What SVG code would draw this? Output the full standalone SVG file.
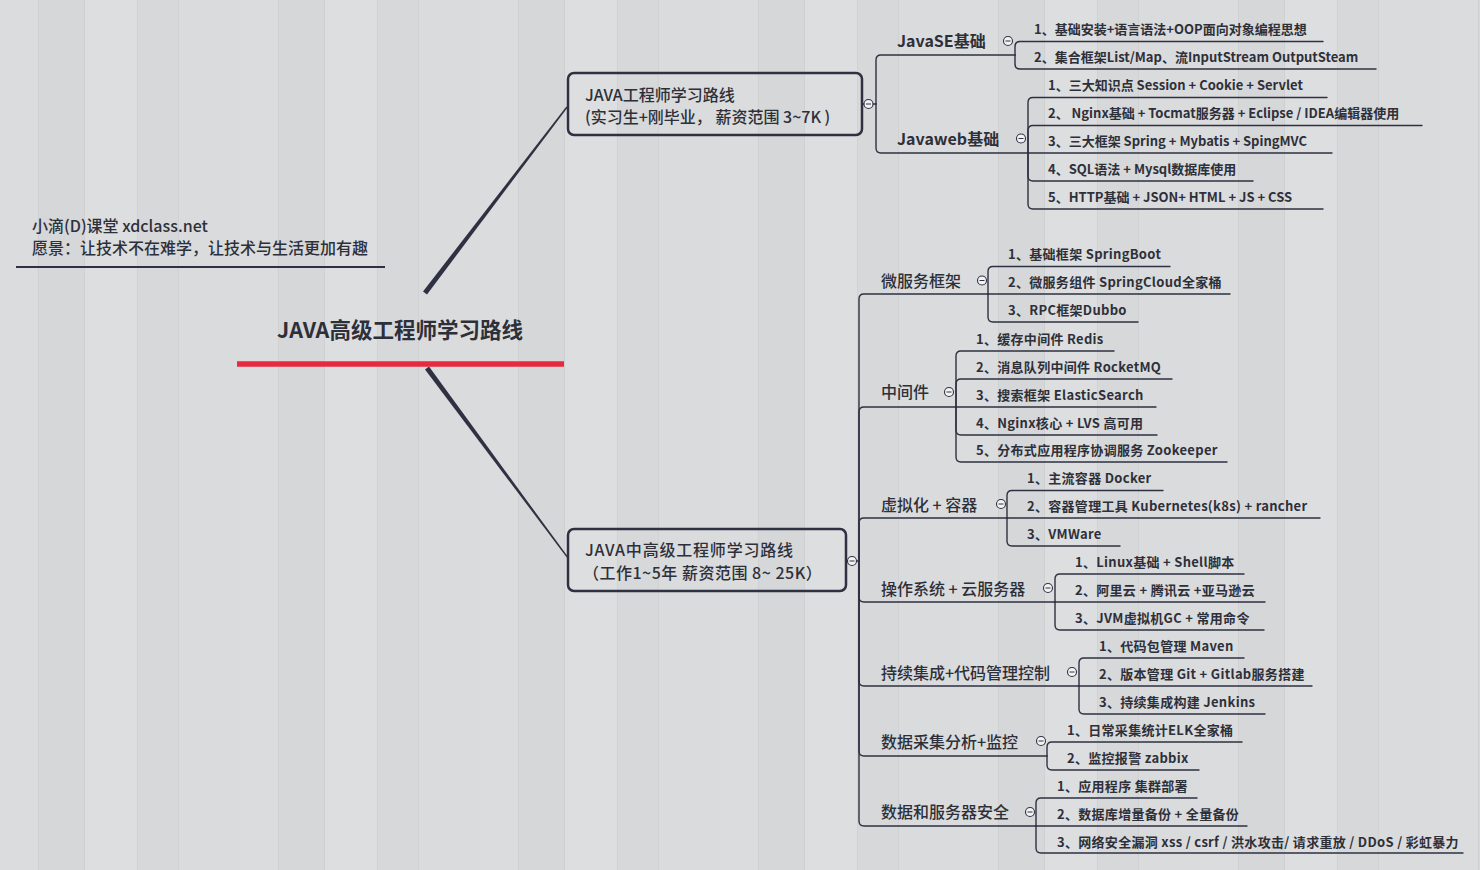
<svg xmlns="http://www.w3.org/2000/svg" width="1480" height="870" viewBox="0 0 1480 870">
<defs>
<pattern id="wood" x="0" y="0" width="240" height="870" patternUnits="userSpaceOnUse">
<rect x="0" y="0" width="240" height="870" fill="#d9dadc"/>
<rect x="0" y="0" width="38" height="870" fill="#dbdcde"/>
<rect x="38" y="0" width="1" height="870" fill="#d0d1d3"/>
<rect x="39" y="0" width="45" height="870" fill="#d6d7d9"/>
<rect x="84" y="0" width="1" height="870" fill="#cfd0d2"/>
<rect x="85" y="0" width="52" height="870" fill="#dddee0"/>
<rect x="137" y="0" width="1" height="870" fill="#d1d2d4"/>
<rect x="138" y="0" width="40" height="870" fill="#d7d8da"/>
<rect x="178" y="0" width="1" height="870" fill="#d0d1d3"/>
<rect x="179" y="0" width="61" height="870" fill="#dadbdd"/>
</pattern>
<style>
.ln{fill:none;stroke:#2e3141;stroke-width:1.4;stroke-linecap:round}
.box{fill:none;stroke:#2e3141;stroke-width:2.5}
.t{font-family:"Noto Sans CJK SC","Noto Sans",sans-serif;fill:#2e3039}
.leaf{font-size:13px;font-weight:700}
.bl{letter-spacing:0.3px}
.l2b{font-size:16px;font-weight:700}
.l2{font-size:16px;font-weight:500}
.l1{font-size:16px;font-weight:500}
.tog circle{fill:#f3f3f4;stroke:#2e3141;stroke-width:1.1}
.tog line{stroke:#2e3141;stroke-width:1}
</style>
</defs>
<rect x="0" y="0" width="1480" height="870" fill="url(#wood)"/>

<g id="connectors">
<polygon points="423,291.5 566.4,106.5 567.6,107.5 427,294.5" fill="#2e3141"/>
<polygon points="425,369.5 567.5,558.4 568.5,557.6 429,366.5" fill="#2e3141"/>
<path class="ln" d="M862 104 H876"/>
<path class="ln" d="M876 104 V60 Q876 55 881 55 H1015"/>
<path class="ln" d="M876 104 V148 Q876 153 881 153 H1028"/>
<path class="ln" d="M1015 55 V46.5 Q1015 41.5 1020 41.5 H1323"/>
<path class="ln" d="M1015 55 V64 Q1015 69 1020 69 H1376"/>
<path class="ln" d="M1028 153 V102.5 Q1028 97.5 1033 97.5 H1327"/>
<path class="ln" d="M1028 153 V130.5 Q1028 125.5 1033 125.5 H1422"/>
<path class="ln" d="M1028 153 H1332"/>
<path class="ln" d="M1028 153 V176 Q1028 181 1033 181 H1253"/>
<path class="ln" d="M1028 153 V204 Q1028 209 1033 209 H1323"/>
<path class="ln" d="M846 561 H859"/>
<path class="ln" d="M859 561 V299 Q859 294 864 294 H988"/>
<path class="ln" d="M859 561 V412 Q859 407 864 407 H956"/>
<path class="ln" d="M859 561 V523 Q859 518 864 518 H1007"/>
<path class="ln" d="M859 561 V597 Q859 602 864 602 H1055"/>
<path class="ln" d="M859 561 V681 Q859 686 864 686 H1079"/>
<path class="ln" d="M859 561 V751 Q859 756 864 756 H1047"/>
<path class="ln" d="M859 561 V821 Q859 826 864 826 H1036"/>
<path class="ln" d="M988 294 V271.5 Q988 266.5 993 266.5 H1170"/>
<path class="ln" d="M988 294 H1230"/>
<path class="ln" d="M988 294 V317 Q988 322 993 322 H1138"/>
<path class="ln" d="M956 407 V356 Q956 351 961 351 H1114"/>
<path class="ln" d="M956 407 V384 Q956 379 961 379 H1172"/>
<path class="ln" d="M956 407 H1156"/>
<path class="ln" d="M956 407 V430 Q956 435 961 435 H1157"/>
<path class="ln" d="M956 407 V457 Q956 462 961 462 H1227"/>
<path class="ln" d="M1007 518 V495.5 Q1007 490.5 1012 490.5 H1163"/>
<path class="ln" d="M1007 518 H1320"/>
<path class="ln" d="M1007 518 V541 Q1007 546 1012 546 H1120"/>
<path class="ln" d="M1055 602 V579 Q1055 574 1060 574 H1244"/>
<path class="ln" d="M1055 602 H1265"/>
<path class="ln" d="M1055 602 V625 Q1055 630 1060 630 H1264"/>
<path class="ln" d="M1079 686 V663 Q1079 658 1084 658 H1244"/>
<path class="ln" d="M1079 686 H1312"/>
<path class="ln" d="M1079 686 V709 Q1079 714 1084 714 H1265"/>
<path class="ln" d="M1047 756 V747 Q1047 742 1052 742 H1242"/>
<path class="ln" d="M1047 756 V765 Q1047 770 1052 770 H1199"/>
<path class="ln" d="M1036 826 V803 Q1036 798 1041 798 H1197"/>
<path class="ln" d="M1036 826 H1247"/>
<path class="ln" d="M1036 826 V848 Q1036 853 1041 853 H1463"/>
</g>

<g id="watermark">
<text class="t" x="32" y="232" font-size="16" font-weight="500">小滴(D)课堂 xdclass.net</text>
<text class="t" x="32" y="254" font-size="16" font-weight="500">愿景：让技术不在难学，让技术与生活更加有趣</text>
<line x1="16" y1="267" x2="385" y2="267" stroke="#2e3141" stroke-width="2"/>
</g>

<g id="root">
<text class="t" x="400" y="338" font-size="21.5" font-weight="700" text-anchor="middle">JAVA高级工程师学习路线</text>
<line x1="237" y1="364" x2="564" y2="364" stroke="#e8293f" stroke-width="5.5"/>
</g>

<g id="node-junior">
<rect class="box" x="568" y="73" width="294" height="62" rx="6"/>
<text class="t l1" x="585" y="101">JAVA工程师学习路线</text>
<text class="t l1" x="585" y="123">(实习生+刚毕业， 薪资范围 3~7K )</text>
<g class="tog"><circle cx="868.5" cy="104" r="4.5"/><line x1="866" y1="104" x2="871" y2="104"/></g>
</g>

<g id="node-javase">
<text class="t l2b" x="897" y="47">JavaSE基础</text>
<g class="tog"><circle cx="1008" cy="41" r="4.5"/><line x1="1005.5" y1="41" x2="1010.5" y2="41"/></g>
<text class="t leaf" x="1034" y="34">1、基础安装+语言语法+OOP面向对象编程思想</text>
<text class="t leaf" x="1034" y="62">2、集合框架List/Map、流InputStream OutputSteam</text>
</g>

<g id="node-javaweb">
<text class="t l2b" x="897" y="145">Javaweb基础</text>
<g class="tog"><circle cx="1021" cy="138.5" r="4.5"/><line x1="1018.5" y1="138.5" x2="1023.5" y2="138.5"/></g>
<text class="t leaf" x="1048" y="90">1、三大知识点 Session + Cookie + Servlet</text>
<text class="t leaf" x="1048" y="118">2、 Nginx基础 + Tocmat服务器 + Eclipse / IDEA编辑器使用</text>
<text class="t leaf" x="1048" y="146">3、三大框架 Spring + Mybatis + SpingMVC</text>
<text class="t leaf" x="1048" y="174">4、SQL语法 + Mysql数据库使用</text>
<text class="t leaf" x="1048" y="202">5、HTTP基础 + JSON+ HTML + JS + CSS</text>
</g>

<g id="node-senior">
<rect class="box" x="568" y="529" width="278" height="62" rx="6"/>
<text class="t l1" x="585" y="556" letter-spacing="0.8">JAVA中高级工程师学习路线</text>
<text class="t l1" x="583" y="579" letter-spacing="0.5">（工作1~5年 薪资范围 8~ 25K）</text>
<g class="tog"><circle cx="852" cy="561" r="4.5"/><line x1="849.5" y1="561" x2="854.5" y2="561"/></g>
</g>

<g id="node-microservice">
<text class="t l2" x="881" y="287">微服务框架</text>
<g class="tog"><circle cx="982" cy="280.5" r="4.5"/><line x1="979.5" y1="280.5" x2="984.5" y2="280.5"/></g>
<text class="t leaf bl" x="1008" y="259">1、基础框架 SpringBoot</text>
<text class="t leaf bl" x="1008" y="287">2、微服务组件 SpringCloud全家桶</text>
<text class="t leaf bl" x="1008" y="315">3、RPC框架Dubbo</text>
</g>

<g id="node-middleware">
<text class="t l2" x="881" y="398">中间件</text>
<g class="tog"><circle cx="949" cy="392" r="4.5"/><line x1="946.5" y1="392" x2="951.5" y2="392"/></g>
<text class="t leaf bl" x="976" y="344">1、缓存中间件 Redis</text>
<text class="t leaf bl" x="976" y="372">2、消息队列中间件 RocketMQ</text>
<text class="t leaf bl" x="976" y="400">3、搜索框架 ElasticSearch</text>
<text class="t leaf bl" x="976" y="428">4、Nginx核心 + LVS 高可用</text>
<text class="t leaf bl" x="976" y="455">5、分布式应用程序协调服务 Zookeeper</text>
</g>

<g id="node-container">
<text class="t l2" x="881" y="511">虚拟化 + 容器</text>
<g class="tog"><circle cx="1001" cy="504" r="4.5"/><line x1="998.5" y1="504" x2="1003.5" y2="504"/></g>
<text class="t leaf bl" x="1027" y="483">1、主流容器 Docker</text>
<text class="t leaf bl" x="1027" y="511">2、容器管理工具 Kubernetes(k8s) + rancher</text>
<text class="t leaf bl" x="1027" y="539">3、VMWare</text>
</g>

<g id="node-os">
<text class="t l2" x="881" y="595">操作系统 + 云服务器</text>
<g class="tog"><circle cx="1048" cy="588" r="4.5"/><line x1="1045.5" y1="588" x2="1050.5" y2="588"/></g>
<text class="t leaf bl" x="1075" y="567">1、Linux基础 + Shell脚本</text>
<text class="t leaf bl" x="1075" y="595">2、阿里云 + 腾讯云 +亚马逊云</text>
<text class="t leaf bl" x="1075" y="623">3、JVM虚拟机GC + 常用命令</text>
</g>

<g id="node-ci">
<text class="t l2" x="881" y="679">持续集成+代码管理控制</text>
<g class="tog"><circle cx="1072" cy="672" r="4.5"/><line x1="1069.5" y1="672" x2="1074.5" y2="672"/></g>
<text class="t leaf bl" x="1099" y="651">1、代码包管理 Maven</text>
<text class="t leaf bl" x="1099" y="679">2、版本管理 Git + Gitlab服务搭建</text>
<text class="t leaf bl" x="1099" y="707">3、持续集成构建 Jenkins</text>
</g>

<g id="node-monitor">
<text class="t l2" x="881" y="748">数据采集分析+监控</text>
<g class="tog"><circle cx="1041" cy="741" r="4.5"/><line x1="1038.5" y1="741" x2="1043.5" y2="741"/></g>
<text class="t leaf bl" x="1067" y="735">1、日常采集统计ELK全家桶</text>
<text class="t leaf bl" x="1067" y="763">2、监控报警 zabbix</text>
</g>

<g id="node-security">
<text class="t l2" x="881" y="818">数据和服务器安全</text>
<g class="tog"><circle cx="1030" cy="812" r="4.5"/><line x1="1027.5" y1="812" x2="1032.5" y2="812"/></g>
<text class="t leaf bl" x="1057" y="791">1、应用程序 集群部署</text>
<text class="t leaf bl" x="1057" y="819">2、数据库增量备份 + 全量备份</text>
<text class="t leaf bl" x="1057" y="847">3、网络安全漏洞 xss / csrf / 洪水攻击/ 请求重放 / DDoS / 彩虹暴力</text>
</g>
</svg>
